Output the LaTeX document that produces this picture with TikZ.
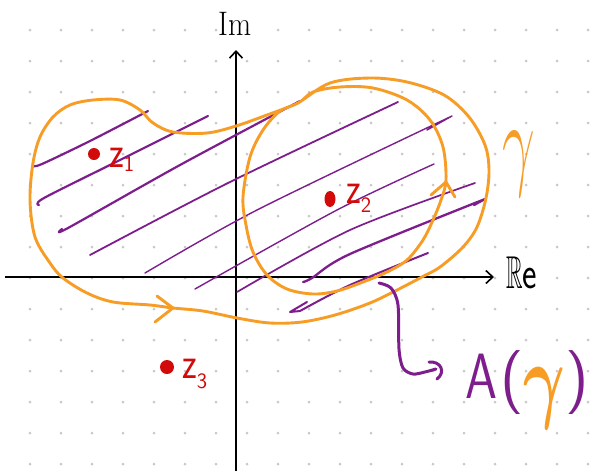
\RequirePackage{fix-cm}
\documentclass[tikz,border=0pt]{standalone}
\usepackage{amsmath}
\usepackage{amssymb}
\usetikzlibrary{arrows.meta,shapes.geometric}
\definecolor{gam}{RGB}{247,157,38}
\definecolor{pur}{RGB}{125,30,140}
\definecolor{zred}{RGB}{210,10,10}
\definecolor{griddot}{RGB}{200,200,200}
\newcommand{\zlab}[2]{\scalebox{0.8}[1]{\fontsize{45}{45}\selectfont\textsf{z}}\raisebox{-#2pt}{\fontsize{22}{22}\selectfont\textsf{#1}}}
\begin{document}
\begin{tikzpicture}[x=1pt,y=-1pt,
  axis/.style={line width=1.8pt, black, -{Straight Barb[length=7pt,width=13pt,line width=1.6pt]}},
  curve/.style={line width=2.9pt, gam, line cap=round, line join=round},
  hatch/.style={pur, line cap=round, line join=round},
  dot/.style={fill=zred, draw=none, inner sep=0pt},
  zl/.style={anchor=base west, inner sep=0pt, text=zred},
]
\useasboundingbox (0,0) rectangle (597,472);
\fill[white] (0,0) rectangle (597,472);
% dot grid
\foreach \i in {0,...,18} \foreach \j in {0,...,14}
  \fill[griddot] (30+31*\i, 30+31*\j) circle (1.5pt);
% axes
\coordinate (reS) at (5,277);
\coordinate (reE) at (494,277);
\coordinate (imS) at (236,471);
\coordinate (imE) at (236,50);
\draw[axis] (reS) -- (reE);
\draw[axis] (imS) -- (imE);
\node[anchor=base west, inner sep=0pt, font=\fontsize{34}{34}\selectfont] (im) at (218,35) {\scalebox{0.88}[1]{Im}};
\node[anchor=base west, inner sep=0pt] (re) at (506,288) {\fontsize{46}{46}\selectfont\scalebox{0.5}[1]{$\mathbb{R}$}\scalebox{0.75}[1]{\textsf{e}}};
% hatching
\draw[hatch, line width=2.2pt] plot[smooth] coordinates {(33,166) (42,164) (90,141) (148,111)};
\draw[hatch, line width=2.2pt] plot[smooth] coordinates {(39,205) (44,198) (120,160) (208,116)};
\draw[hatch, line width=2.2pt] plot[smooth] coordinates {(62,229) (68,228) (180,165) (300,101)};
\draw[hatch, line width=1.8pt] plot[smooth] coordinates {(90,255) (230,182) (398,102)};
\draw[hatch, line width=1.4pt] plot[smooth] coordinates {(145,273) (257,210) (452,116)} -- (427,130);
\draw[hatch, line width=1.4pt] plot[smooth] coordinates {(195,289) (337,210) (434,164)};
\draw[hatch, line width=1.7pt] plot[smooth] coordinates {(237,292) (350,230) (475,183)};
\draw[hatch, line width=2.3pt] plot[smooth] coordinates {(303,282) (312,278) (350,254) (485,199)} -- (474,205);
\draw[hatch, line width=2.0pt] (307,302) -- (290,312) -- plot[smooth] coordinates {(300,311) (350,285) (428,253)};
% gamma curve
\draw[curve] plot[smooth cycle, tension=0.55] coordinates {
 (173,308) (203,311) (237,318) (270,323) (302,322) (335,315) (370,303) (397,290)
 (420,278) (440,267) (463,247) (477,227) (486,198) (489,170) (485,145) (469,117)
 (444,95) (407,82) (370,78) (330,83) (298,103) (280,111) (263,130) (250,157)
 (243,197) (246,225) (253,252) (267,275) (287,289) (313,294) (337,291) (363,282)
 (387,272) (407,260) (423,240) (433,220) (441,200) (446,180) (443,147) (430,120)
 (407,100) (373,88) (340,87) (313,92) (298,103) (267,115) (236,126) (207,133)
 (173,132) (153,123) (140,110) (120,100) (93,100) (70,105) (53,117) (40,137)
 (33,163) (30,200) (35,237) (50,263) (63,278) (87,293) (113,302) (150,305)};
\draw[curve] (157,296) -- (173,308) -- (155,322);
\draw[curve] (431,195) -- (446,182) -- (455,197);
% points
\node[dot, circle, minimum size=12pt] (z1) at (94,154) {};
\node[dot, ellipse, minimum width=11pt, minimum height=16pt] (z2) at (330,199) {};
\node[dot, circle, minimum size=14pt] (z3) at (167,367) {};
\node[zl] (l1) at (109,167) {\zlab{1}{4}};
\node[zl] (l2) at (346,203) {\zlab{2}{9}};
\node[zl] (l3) at (182,378) {\zlab{3}{10}};
% gamma label
\node[inner sep=0pt, text=gam] (g) at (519,164) {\fontsize{58}{58}\selectfont\scalebox{1}[1.8]{$\gamma$}};
% A(gamma)
\coordinate (arrS) at (379,283);
\draw[pur, line width=3pt, line cap=round, line join=round] plot[smooth] coordinates {(arrS) (391,288) (398,305) (399,349) (403,368) (413,374) (425,372) (436,369)};
\draw[pur, line width=3pt, line cap=round] (429,362) .. controls (441,361) and (446,372) .. (437,379);
\node[anchor=base west, inner sep=0pt, text=pur] (A) at (465,398) {\fontsize{64}{64}\selectfont\scalebox{0.8}[1]{\textsf{A}}\hspace{3pt}\textsf{(}\raisebox{-12pt}{\scalebox{1}[1.5]{\color{gam}$\boldsymbol{\gamma}$}}\textsf{)}};
\end{tikzpicture}
\end{document}
